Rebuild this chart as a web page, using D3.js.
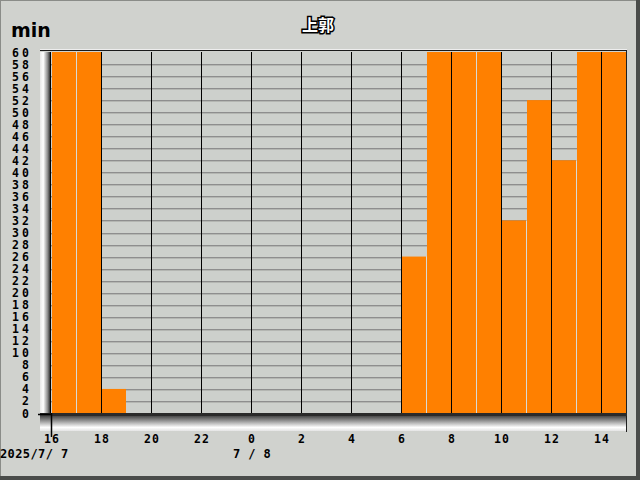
<!DOCTYPE html>
<html><head><meta charset="utf-8">
<script src="https://cdn.jsdelivr.net/npm/d3@7"></script>
<style>body{margin:0;background:#d0d2ce}svg{display:block}</style>
</head><body>
<script>
const hours = [16,17,18,19,20,21,22,23,0,1,2,3,4,5,6,7,8,9,10,11,12,13,14];
const values = [60,60,4,0,0,0,0,0,0,0,0,0,0,0,26,60,60,60,32,52,42,60,60];
const yTicks = d3.range(0,61,2);
const dateLabels = [{i:0,text:"2025/7/ 7",anchor:"start"},{i:8,text:"7 / 8",anchor:"middle"}];
const title = "上郭";
const unit = "min";

const W=640,H=480;
const svg = d3.select("body").append("svg").attr("width",W).attr("height",H);
const x = d3.scaleLinear().domain([0,hours.length]).range([51,626]);
const y = d3.scaleLinear().domain([0,60]).range([413,52]);

// frame
svg.append("rect").attr("x",0).attr("y",0).attr("width",W).attr("height",H).attr("fill","#d0d2ce");
svg.append("rect").attr("x",0.5).attr("y",0.5).attr("width",W-1).attr("height",H-1).attr("fill","none").attr("stroke","#8a8c88");
svg.append("rect").attr("x",0).attr("y",476).attr("width",W).attr("height",4).attr("fill","#4a4c4a");
svg.append("rect").attr("x",636).attr("y",0).attr("width",4).attr("height",H).attr("fill","#4a4c4a");

const defs = svg.append("defs");
const gl = defs.append("linearGradient").attr("id","wall").attr("x1",0).attr("x2",1).attr("y1",0).attr("y2",0);
gl.append("stop").attr("offset","0%").attr("stop-color","#e8e8e8");
gl.append("stop").attr("offset","30%").attr("stop-color","#ffffff");
gl.append("stop").attr("offset","70%").attr("stop-color","#8a8a8a");
gl.append("stop").attr("offset","100%").attr("stop-color","#101010");
const gf = defs.append("linearGradient").attr("id","floor").attr("x1",0).attr("x2",0).attr("y1",0).attr("y2",1);
gf.append("stop").attr("offset","0%").attr("stop-color","#1a1a1a");
gf.append("stop").attr("offset","40%").attr("stop-color","#8a8a8a");
gf.append("stop").attr("offset","80%").attr("stop-color","#ffffff");
gf.append("stop").attr("offset","100%").attr("stop-color","#e4e4e4");

// plot background
svg.append("rect").attr("x",x(0)).attr("y",y(60)).attr("width",x(hours.length)-x(0)).attr("height",y(0)-y(60)).attr("fill","#cdd0cc");
// left wall and floor
svg.append("rect").attr("x",40).attr("y",y(60)).attr("width",x(0)-40).attr("height",y(0)-y(60)+8).attr("fill","url(#wall)");
svg.append("rect").attr("x",40).attr("y",y(0)).attr("width",x(hours.length)-40).attr("height",18).attr("fill","url(#floor)");
// top edge
svg.append("line").attr("x1",40).attr("x2",x(hours.length)+1).attr("y1",y(60)-1.5).attr("y2",y(60)-1.5).attr("stroke","#1a1a1a").attr("stroke-width",1);
svg.append("line").attr("x1",40).attr("x2",x(hours.length)+1).attr("y1",y(60)-2.5).attr("y2",y(60)-2.5).attr("stroke","#eeeeee").attr("stroke-width",1);

// horizontal grid
svg.append("g").selectAll("line").data(yTicks.filter(v=>v>0&&v<60)).join("line")
  .attr("x1",x(0)).attr("x2",x(hours.length))
  .attr("y1",d=>Math.round(y(d))+0.5).attr("y2",d=>Math.round(y(d))+0.5)
  .attr("stroke","#8e8e8e").attr("stroke-width",1);
svg.append("g").selectAll("line").data(yTicks.filter(v=>v>0&&v<60)).join("line")
  .attr("x1",x(0)).attr("x2",x(hours.length))
  .attr("y1",d=>Math.round(y(d))+1.5).attr("y2",d=>Math.round(y(d))+1.5)
  .attr("stroke","#b4b6b2").attr("stroke-width",1);

// bars
svg.append("g").selectAll("rect").data(values).join("rect")
  .attr("x",(d,i)=>x(i)+1).attr("width",(d,i)=>x(i+1)-x(i)-1)
  .attr("y",d=>y(d)).attr("height",d=>y(0)-y(d))
  .attr("fill","#ff8000");
// light separators between bars
svg.append("g").selectAll("line").data(values.map((v,i)=>({v,i})).filter(d=>d.v>0 && d.i%2===1)).join("line")
  .attr("x1",d=>x(d.i)+0.5).attr("x2",d=>x(d.i)+0.5)
  .attr("y1",d=>y(Math.min(d.v,values[d.i-1]))).attr("y2",y(0))
  .attr("stroke","#d8dad6");

// vertical grid at even hours
svg.append("g").selectAll("line").data(d3.range(2,hours.length,2)).join("line")
  .attr("x1",d=>x(d)+0.5).attr("x2",d=>x(d)+0.5).attr("y1",y(60)).attr("y2",y(0))
  .attr("stroke","#000");
// right edge
svg.append("line").attr("x1",x(hours.length)+0.5).attr("x2",x(hours.length)+0.5).attr("y1",y(60)-1).attr("y2",y(0)+19).attr("stroke","#202020");
// left dark edge
svg.append("line").attr("x1",x(0)-0.5).attr("x2",x(0)-0.5).attr("y1",y(60)).attr("y2",y(0)).attr("stroke","#000");
// baseline
svg.append("rect").attr("x",x(0)).attr("y",y(0)).attr("width",x(hours.length)-x(0)+1).attr("height",3).attr("fill","#2a2a2a");
// axis cross
svg.append("line").attr("x1",38).attr("x2",x(0)).attr("y1",y(0)+1.5).attr("y2",y(0)+1.5).attr("stroke","#000").attr("stroke-width",1.5);
svg.append("line").attr("x1",x(0)+0.5).attr("x2",x(0)+0.5).attr("y1",y(0)).attr("y2",y(0)+24).attr("stroke","#000").attr("stroke-width",1.5);

const font = "'DejaVu Sans Mono', monospace";
// y labels
svg.append("g").selectAll("text").data(yTicks).join("text")
  .attr("x",12).attr("y",d=>y(d)+4.5).attr("text-anchor","start")
  .attr("font-family",font).attr("font-weight","bold").attr("font-size",11.5).attr("letter-spacing",3.2)
  .attr("fill","#000").style("white-space","pre").text(d=>String(d).padStart(2," "));
// x labels
svg.append("g").selectAll("text").data(d3.range(0,hours.length,2)).join("text")
  .attr("x",d=>x(d)+1).attr("y",443).attr("text-anchor","middle")
  .attr("font-family",font).attr("font-weight","bold").attr("font-size",11.5).attr("letter-spacing",1)
  .attr("fill","#000").text(d=>hours[d]);
// date labels
svg.append("g").selectAll("text").data(dateLabels).join("text")
  .attr("x",d=>d.anchor==="start"?0:x(d.i)+1).attr("y",458).attr("text-anchor",d=>d.anchor)
  .attr("font-family",font).attr("font-weight","bold").attr("font-size",12).attr("letter-spacing",0.4)
  .attr("fill","#000").style("white-space","pre").text(d=>d.text);
// unit
svg.append("text").attr("x",11).attr("y",37).attr("font-family","'DejaVu Sans', sans-serif").attr("font-weight","bold").attr("font-size",19).attr("fill","#000").text(unit);
// title
svg.append("text").attr("x",318).attr("y",31).attr("text-anchor","middle")
  .attr("font-family","'Noto Sans CJK JP', sans-serif").attr("font-weight","bold").attr("font-size",16)
  .attr("fill","#fff").attr("stroke","#000").attr("stroke-width",3).attr("paint-order","stroke").text(title);
</script>
</body></html>
